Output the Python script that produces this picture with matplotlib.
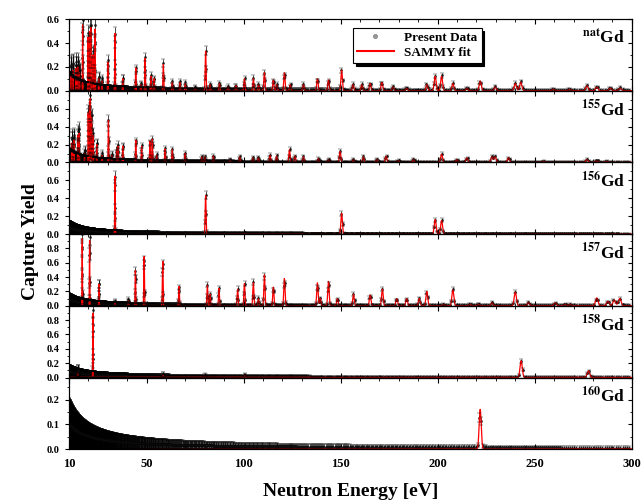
import numpy as np
import matplotlib
matplotlib.use("Agg")
import matplotlib.pyplot as plt
from matplotlib.lines import Line2D
from matplotlib.ticker import FixedLocator, MultipleLocator

plt.rcParams['font.family'] = ['Liberation Serif', 'DejaVu Serif']
plt.rcParams['font.weight'] = 'bold'
plt.rcParams['mathtext.fontset'] = 'stix'

# resonance energies (eV) and peak capture yields
nat_E = [11.0, 12.0, 13.6, 14.5, 15.4, 17.0, 19.8, 20.6, 21.2, 22.3, 23.4, 25.3, 27.0,
         30.0, 33.7, 37.7, 44.4, 47.0, 49.2, 52.2, 53.8, 58.6, 63.2, 67.2, 69.9, 75.0,
         80.4, 82.7, 87.5, 92.0, 96.0, 100.4, 105.0, 107.6, 110.7, 115.3, 117.0, 121.0,
         124.0, 130.8, 138.0, 143.7, 150.5, 156.4, 160.9, 165.2, 171.2, 177.0, 184.0,
         194.4, 198.7, 202.0, 207.8, 215.0, 221.9, 229.6, 240.0, 242.8, 259.5, 268.0,
         276.9, 282.0, 289.0, 294.0]
nat_Y = [0.15, 0.17, 0.19, 0.20, 0.15, 0.55, 0.45, 0.50, 0.53, 0.30, 0.52, 0.10, 0.08,
         0.24, 0.48, 0.10, 0.19, 0.05, 0.27, 0.12, 0.10, 0.22, 0.07, 0.07, 0.06, 0.02,
         0.33, 0.05, 0.06, 0.03, 0.04, 0.10, 0.10, 0.05, 0.15, 0.09, 0.05, 0.15,
         0.05, 0.05, 0.10, 0.09, 0.17, 0.05, 0.05, 0.06, 0.07, 0.03, 0.02,
         0.05, 0.12, 0.12, 0.06, 0.02, 0.08, 0.03, 0.06, 0.07, 0.01, 0.01,
         0.04, 0.03, 0.02, 0.02]

gd155_E = [11.5, 12.5, 14.5, 15.2, 18.0, 19.9, 20.6, 21.0, 21.6, 22.4, 24.3, 27.0, 30.3,
           32.0, 34.6, 35.3, 37.7, 44.4, 47.4, 51.7, 52.9, 55.2, 59.5, 63.2, 69.8, 78.4,
           80.0, 84.4, 93.0, 98.0, 104.7, 107.6, 113.6, 117.0, 123.6, 126.5, 130.8, 138.5,
           143.7, 149.7, 156.6, 161.7, 168.6, 173.4, 179.7, 187.5, 202.0, 209.8, 215.0,
           227.9, 229.6, 236.5, 254.5, 276.9, 282.0, 287.0]
gd155_Y = [0.22, 0.25, 0.30, 0.33, 0.10, 0.55, 0.68, 0.72, 0.50, 0.30, 0.20, 0.08, 0.47,
           0.08, 0.15, 0.18, 0.18, 0.25, 0.18, 0.24, 0.26, 0.08, 0.15, 0.14, 0.10, 0.06,
           0.06, 0.07, 0.03, 0.06, 0.05, 0.05, 0.08, 0.07, 0.14, 0.07, 0.06, 0.04,
           0.03, 0.12, 0.03, 0.06, 0.03, 0.07, 0.02, 0.03, 0.09, 0.03, 0.05,
           0.06, 0.06, 0.05, 0.01, 0.03, 0.02, 0.01]

gd156_E = [33.7, 80.4, 100.7, 150.5, 198.7, 202.0]
gd156_Y = [0.65, 0.43, 0.01, 0.23, 0.16, 0.15]

gd157_E = [16.8, 20.6, 25.4, 33.7, 40.6, 44.2, 48.7, 58.3, 66.7, 81.3, 82.7, 87.3, 96.9,
           100.4, 105.0, 107.6, 110.7, 115.3, 121.0, 138.0, 139.5, 143.7, 148.3, 156.6,
           165.2, 171.5, 178.9, 184.0, 190.5, 194.4, 203.0, 207.8, 216.7, 221.0, 227.9,
           240.0, 246.8, 260.5, 265.7, 268.3, 282.0, 287.7, 291.0, 293.8]
gd157_Y = [0.95, 0.92, 0.30, 0.04, 0.07, 0.49, 0.69, 0.62, 0.27, 0.28, 0.16, 0.24, 0.23,
           0.31, 0.32, 0.10, 0.43, 0.26, 0.38, 0.32, 0.10, 0.34, 0.10, 0.16,
           0.15, 0.23, 0.10, 0.10, 0.10, 0.20, 0.02, 0.22, 0.02, 0.02, 0.04,
           0.19, 0.04, 0.04, 0.02, 0.02, 0.11, 0.06, 0.08, 0.10]

gd158_E = [14.5, 22.3, 58.5, 80.0, 100.7, 243.0, 277.7]
gd158_Y = [0.05, 0.90, 0.03, 0.02, 0.03, 0.23, 0.09]

gd160_E = [221.9]
gd160_Y = [0.16]

# smooth background seen in the data: yield at 10 eV and fall-off power
bkg_level = [0.07, 0.07, 0.07, 0.08, 0.08, 0.10]
bkg_power = [1.4, 1.4, 1.2, 1.2, 1.0, 1.0]
# flat offset of the data band above the fitted baseline
base_level = [0.008, 0.008, 0.006, 0.008, 0.008, 0.003]

labels = ['nat', '155', '156', '157', '158', '160']
y_top = [0.6, 0.8, 0.8, 1.0, 1.0, 0.29]
y_ticks = [[0.0, 0.2, 0.4, 0.6], [0.0, 0.2, 0.4, 0.6], [0.0, 0.2, 0.4, 0.6],
           [0.0, 0.2, 0.4, 0.6, 0.8], [0.0, 0.2, 0.4, 0.6, 0.8], [0.0, 0.1, 0.2]]
y_minor = [0.1, 0.1, 0.1, 0.1, 0.1, 0.05]

res_E = [nat_E, gd155_E, gd156_E, gd157_E, gd158_E, gd160_E]
res_Y = [nat_Y, gd155_Y, gd156_Y, gd157_Y, gd158_Y, gd160_Y]


def resonance_sum(E, E0, Y0):
    # broadened peaks, width grows with energy (resolution + Doppler)
    E = np.asarray(E)[:, None]
    E0 = np.asarray(E0)
    sig = (0.15 + 0.005 * E0) / 2.355
    return (np.asarray(Y0) * np.exp(-0.5 * ((E - E0) / sig) ** 2)).sum(axis=1)


# time-of-flight like sampling, denser at low energy
E_data = 10.0 * 1.004 ** np.arange(int(np.log(30) / np.log(1.004)) + 1)
E_fit = np.linspace(10, 300, 8000)

fig, axes = plt.subplots(6, 1, figsize=(6.42, 5.03), dpi=100, sharex=True)
fig.subplots_adjust(left=0.1075, right=0.984, top=0.962, bottom=0.107, hspace=0)

for i, ax in enumerate(axes):
    res = resonance_sum(E_data, res_E[i], res_Y[i])
    bkg = bkg_level[i] * (10.0 / E_data) ** bkg_power[i]
    y = res + bkg + base_level[i]
    err = bkg + 0.08 * res + base_level[i]
    eb = ax.errorbar(E_data, y, yerr=err, fmt='o', ms=1.5, mfc='0.1', mec='k', mew=0.3,
                     ecolor='k', elinewidth=0.5, capsize=1.6, capthick=0.5, zorder=2)
    # caps drawn over the fit line, as in the original
    for cap in eb[1]:
        cap.set_zorder(4)
    fit = resonance_sum(E_fit, res_E[i], res_Y[i]) + 0.001
    ax.plot(E_fit, fit, color='red', lw=0.9, zorder=3)

    ax.set_xlim(10, 300)
    ax.set_ylim(0, y_top[i])
    ax.yaxis.set_major_locator(FixedLocator(y_ticks[i]))
    ax.yaxis.set_minor_locator(MultipleLocator(y_minor[i]))
    ax.xaxis.set_major_locator(FixedLocator([10, 50, 100, 150, 200, 250, 300]))
    ax.xaxis.set_minor_locator(MultipleLocator(10))
    ax.tick_params(axis='x', which='both', direction='in', top=True, bottom=True)
    ax.tick_params(axis='x', which='major', length=3.5, labelsize=9, pad=6)
    ax.tick_params(axis='x', which='minor', length=2)
    ax.tick_params(axis='y', which='both', direction='out', right=False, labelsize=7.5)
    ax.tick_params(axis='y', which='major', length=3)
    ax.tick_params(axis='y', which='minor', length=1.5)

    # inward ticks on the right side
    tw = ax.twinx()
    tw.set_ylim(ax.get_ylim())
    tw.yaxis.set_major_locator(FixedLocator(y_ticks[i]))
    tw.yaxis.set_minor_locator(MultipleLocator(y_minor[i]))
    tw.tick_params(axis='y', which='both', direction='in', labelright=False)
    tw.tick_params(axis='y', which='major', length=3)
    tw.tick_params(axis='y', which='minor', length=1.5)

    ax.text(0.988, 0.74, r'$^{\mathbf{%s}}$Gd' % labels[i], transform=ax.transAxes,
            ha='right', va='center', fontsize=12.5, fontweight='bold', zorder=5)

handles = [Line2D([], [], ls='none', marker='o', ms=3, mfc='0.6', mec='0.5', mew=0.5),
           Line2D([], [], color='red', lw=1.5)]
leg = axes[0].legend(handles, ['Present Data', 'SAMMY fit'], loc='upper right',
                     bbox_to_anchor=(0.745, 0.97), fancybox=False, framealpha=1,
                     edgecolor='k', shadow={'color': 'k', 'alpha': 1}, fontsize=9.5,
                     handlelength=2.8, borderpad=0.3, labelspacing=0.2)
leg.get_frame().set_linewidth(0.8)
leg.set_zorder(10)

fig.text(0.047, 0.52, 'Capture Yield', rotation=90, ha='center', va='center',
         fontsize=14, fontweight='bold')
fig.text(0.546, 0.022, 'Neutron Energy [eV]', ha='center', va='center',
         fontsize=14, fontweight='bold')

fig.savefig('out.png', dpi=100)
